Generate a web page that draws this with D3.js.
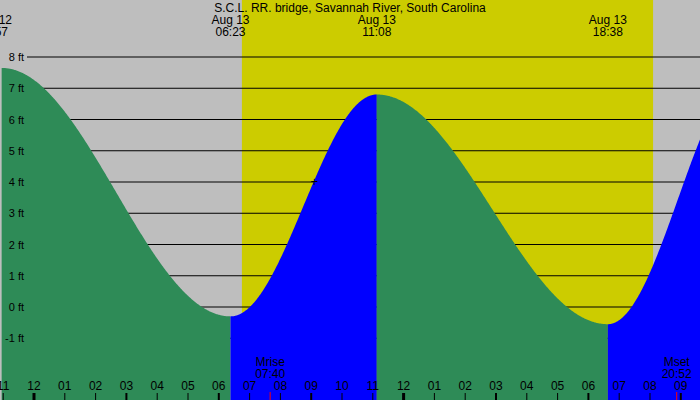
<!DOCTYPE html><html><head><meta charset="utf-8">
<script src="https://cdn.jsdelivr.net/npm/d3@7"></script>
<style>body{margin:0}svg{display:block;font-family:"Liberation Sans",Arial,sans-serif}</style></head><body>
<script>
// tide extremes: hours from Aug 13 00:00, feet
const extremeTimes=[-1.05,6.38,11.13,18.63,23.2];
const extremeHeights=[7.65,-0.3,6.8,-0.55,7.5];
const extremeLabels=[["Aug 12","22:57"],["Aug 13","06:23"],["Aug 13","11:08"],["Aug 13","18:38"]];
const sunTimes=[6.75,20.1]; // sunrise, sunset band
const moonTimes=[7.667,20.867], moonLabels=[["Mrise","07:40"],["Mset","20:52"]];
const feet=[-1,0,1,2,3,4,5,6,7,8];
const hours=d3.range(-1,23);
const W=700,H=400;
const x=d3.scaleLinear().domain([0,1]).range([34,64.8]);
const y=d3.scaleLinear().domain([0,8]).range([307,57]);
const svg=d3.select("body").append("svg").attr("width",W).attr("height",H);
svg.append("rect").attr("width",W).attr("height",H).attr("fill","#bebebe");
svg.append("rect").attr("x",x(sunTimes[0])).attr("y",0).attr("width",x(sunTimes[1])-x(sunTimes[0])).attr("height",H).attr("fill","#cccc00");
svg.selectAll(".g").data(feet).enter().append("line").attr("x1",27).attr("x2",W).attr("y1",d=>y(d)).attr("y2",d=>y(d)).attr("stroke","#000");
function tide(t){for(let i=0;i<extremeTimes.length-1;i++){const a=extremeTimes[i],b=extremeTimes[i+1];if(t>=a&&t<=b){const f=(t-a)/(b-a),h0=extremeHeights[i],h1=extremeHeights[i+1];return h0+(h1-h0)*(1-Math.cos(Math.PI*f))/2;}}return extremeHeights[0];}
const t0=x.invert(0),t1=x.invert(W);
for(let i=0;i<extremeTimes.length-1;i++){
 const a=Math.max(extremeTimes[i],t0),b=Math.min(extremeTimes[i+1],t1);
 if(b<=a)continue;
 const ts=d3.range(a,b,0.02).concat([b]);
 const area=d3.area().x(t=>x(t)).y0(H).y1(t=>y(tide(t)));
 svg.append("path").attr("d",area(ts)).attr("fill",extremeHeights[i+1]>extremeHeights[i]?"#0000ff":"#2e8b57");
}
svg.selectAll(".fl").data(feet).enter().append("text").attr("x",24).attr("y",d=>y(d)+4).attr("text-anchor","end").attr("font-size",11).text(d=>d+" ft");
svg.append("text").attr("x",x(9.1)).attr("y",y(4)+4).attr("text-anchor","middle").attr("font-size",13).text("+");
svg.append("text").attr("x",350).attr("y",12).attr("text-anchor","middle").attr("font-size",12).text("S.C.L. RR. bridge, Savannah River, South Carolina");
extremeLabels.forEach((l,i)=>{const tx=i==0?-7:x(extremeTimes[i]);
 svg.append("text").attr("x",tx).attr("y",24).attr("text-anchor","middle").attr("font-size",12).text(l[0]);
 svg.append("text").attr("x",tx).attr("y",36).attr("text-anchor","middle").attr("font-size",12).text(l[1]);});
moonLabels.forEach((l,i)=>{const mx=x(moonTimes[i]);const tx=i==1?Math.min(mx,684):mx;
 svg.append("text").attr("x",tx).attr("y",366).attr("text-anchor","middle").attr("font-size",12).text(l[0]);
 svg.append("text").attr("x",tx).attr("y",378).attr("text-anchor","middle").attr("font-size",12).text(l[1]);
 svg.append("line").attr("x1",mx).attr("x2",mx).attr("y1",392).attr("y2",400).attr("stroke","red");});
svg.selectAll(".hl").data(hours).enter().append("text").attr("x",d=>x(d)).attr("y",390).attr("text-anchor","middle").attr("font-size",12).text(d=>d3.format("02")(((d%12)+12)%12||12));
svg.selectAll(".ht").data(hours).enter().append("line").attr("x1",d=>x(d)).attr("x2",d=>x(d)).attr("y1",393).attr("y2",400).attr("stroke","#000").attr("stroke-width",d=>d%12==0?3:(d%3==0?2:1));
</script></body></html>
